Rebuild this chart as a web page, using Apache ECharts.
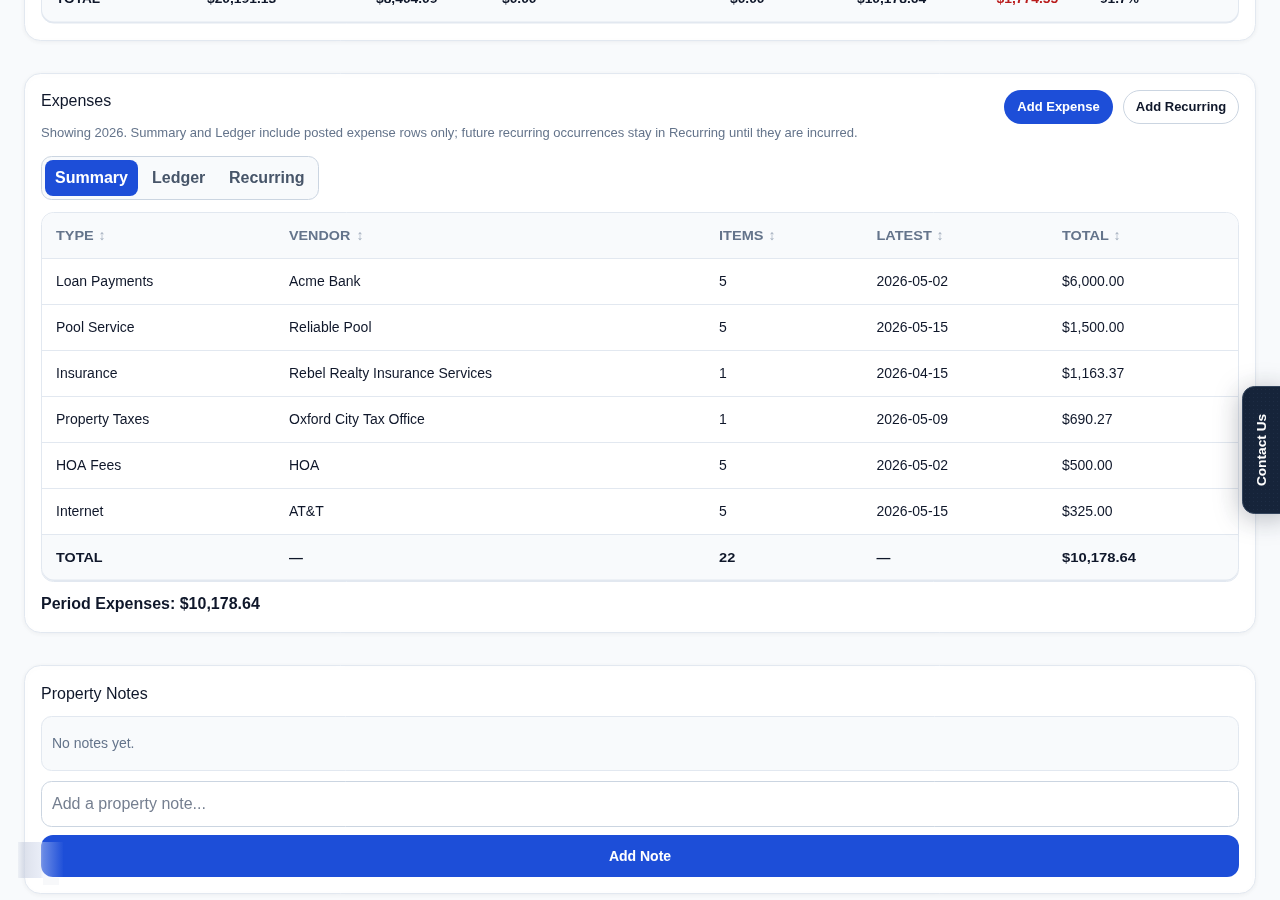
<!DOCTYPE html>
<html><head><meta charset="utf-8">
<style>html,body{margin:0;padding:0;background:#f8fafc;overflow:hidden}#c{width:1280px;height:900px}</style>
<script src="https://cdn.jsdelivr.net/npm/echarts@6/dist/echarts.min.js"></script>
</head><body><div id="c"></div>
<script>
const topTotals = ['TOTAL','$20,191.13','$8,404.09','$0.00','$0.00','$10,178.64','-$1,774.55','91.7%'];
const headers = ['TYPE','VENDOR','ITEMS','LATEST','TOTAL'];
const types = ['Loan Payments','Pool Service','Insurance','Property Taxes','HOA Fees','Internet'];
const vendors = ['Acme Bank','Reliable Pool','Rebel Realty Insurance Services','Oxford City Tax Office','HOA','AT&T'];
const items = ['5','5','1','1','5','5'];
const latest = ['2026-05-02','2026-05-15','2026-04-15','2026-05-09','2026-05-02','2026-05-15'];
const totals = ['$6,000.00','$1,500.00','$1,163.37','$690.27','$500.00','$325.00'];
const totalRow = ['TOTAL','—','22','—','$10,178.64'];
const tabs = ['Summary','Ledger','Recurring'];

const F = '"Liberation Sans", Arial, sans-serif';
const g = [];
const mctx = document.createElement('canvas').getContext('2d');
function rect(x,y,w,h,r,fill,stroke,extra){
  g.push({type:'rect',shape:{x,y,width:w,height:h,r},style:Object.assign({fill:fill||'transparent',stroke:stroke||null,lineWidth:stroke?1:0},extra||{}),silent:true,z:1});
}
function text(s,x,y,size,fill,weight,align,ls,z){
  const font=(weight?weight+' ':'')+size+'px '+F;
  const o={type:'text',silent:true,z:z||5,style:{text:s,x:0,y:0,font,fill,textAlign:align||'left',textVerticalAlign:'middle'},x,y:y+1};
  if(ls){mctx.font=font;const w=mctx.measureText(s).width;o.scaleX=(w+s.length*ls)/w;}
  g.push(o);
}
function hline(x1,x2,y,c,w){g.push({type:'line',silent:true,z:3,shape:{x1,y1:y,x2,y2:y},style:{stroke:c,lineWidth:w||1}});}
const shadow={shadowBlur:5,shadowColor:'rgba(15,23,42,0.05)',shadowOffsetY:1};
const BORDER='#e2e8f0', BORDER2='#cbd5e1', DARK='#0f172a', MUTE='#64748b', BLUE='#1d4ed8', SOFT='#f8fafc';
const LS=0.95;

// clipped card above
rect(24.5,-60,1231,100.5,16,'#fff',BORDER,shadow);
rect(41.5,-60,1197,83,12,BORDER,BORDER);
rect(42,-60,1196,81.5,12,SOFT);
const topX=[56,207,376,502,730,857,992,1100];
topTotals.forEach((s,i)=>text(s,topX[i],-1.5,13,i===6?'#b91c1c':DARK,'bold','left',0.4));

// expenses card
rect(24.5,73.5,1231,559,16,'#fff',BORDER,shadow);
text('Expenses',41,101,16,DARK);
text('Showing 2026. Summary and Ledger include posted expense rows only; future recurring occurrences stay in Recurring until they are incurred.',41,132,13,MUTE);
rect(1004,90,109,34,17,BLUE);
text('Add Expense',1058.5,106,13,'#fff','bold','center');
rect(1123.5,90.5,115,33,16.5,'#fff',BORDER2);
text('Add Recurring',1181,106,13,DARK,'bold','center');
rect(41.5,156.5,277,43,10,SOFT,BORDER2);
rect(45,160,93,36,8,BLUE);
const tabX=[55,152,229];
tabs.forEach((s,i)=>text(s,tabX[i],177.5,16,i===0?'#fff':'#475569','bold'));

// table
rect(41.5,212.5,1197,369,12,'#fff',BORDER);
rect(42,213,1196,45,[12,12,0,0],SOFT);
rect(42,535,1196,46,[0,0,12,12],BORDER);
rect(42,535,1196,44.5,[0,0,12,12],SOFT);
const colX=[56,289,719,876.5,1062];
const arrowX=[102,360,772,940,1117];
const rowTop=258.5,rowH=46;
headers.forEach((s,i)=>{
  text(s,colX[i],235,13,MUTE,'bold','left',LS);
  text('↕',arrowX[i],235,14,'#a3aebd',null,'center');
});
for(let r=0;r<=types.length;r++) hline(42,1238,rowTop+r*rowH,BORDER);
types.forEach((t,r)=>{
  [t,vendors[r],items[r],latest[r],totals[r]].forEach((s,i)=>text(s,colX[i],rowTop+r*rowH+22.5,14,DARK));
});
totalRow.forEach((s,i)=>text(s,colX[i],557,13,DARK,'bold','left',0.9));
text('Period Expenses: $10,178.64',41,603.5,16,DARK,'bold');

// notes card
rect(24.5,665.5,1231,228,16,'#fff',BORDER,shadow);
text('Property Notes',41,693.5,16,DARK);
rect(41.5,716.5,1197,54,10,SOFT,BORDER);
text('No notes yet.',52,743,14,MUTE);
rect(41.5,781.5,1197,45,10,'#fff',BORDER2);
text('Add a property note...',52,803.5,16,'#757f90');
rect(41,835,1198,42,12,BLUE);
text('Add Note',640,856,14,'#fff','bold','center');

// blurred overlay bottom-left
g.push({type:'rect',silent:true,z:8,shape:{x:18,y:842,width:45,height:36},style:{fill:{type:'linear',x:0,y:0,x2:1,y2:0,colorStops:[{offset:0,color:'rgba(205,211,226,0.25)'},{offset:0.12,color:'rgba(205,211,226,0.7)'},{offset:0.5,color:'rgba(215,222,240,0.55)'},{offset:0.56,color:'rgba(225,232,250,0.38)'},{offset:1,color:'rgba(225,232,250,0.02)'}]}}});
g.push({type:'rect',silent:true,z:8,shape:{x:43,y:878,width:16,height:7},style:{fill:'rgba(205,211,226,0.16)'}});

// contact tab
const dots=document.createElement('canvas');dots.width=4;dots.height=4;
const dc=dots.getContext('2d');dc.fillStyle='#17253b';dc.fillRect(0,0,4,4);dc.fillStyle='#1f2e46';dc.fillRect(1,1,1,1);
g.push({type:'rect',silent:true,z:9,shape:{x:1242.5,y:386.5,width:50,height:127,r:12},style:{fill:{image:dots,repeat:'repeat'},stroke:'#33445c',lineWidth:1,shadowBlur:26,shadowColor:'rgba(15,23,42,0.28)',shadowOffsetX:-2,shadowOffsetY:4}});
g.push({type:'text',silent:true,z:10,x:1262,y:450,rotation:Math.PI/2,style:{text:'Contact Us',x:0,y:0,font:'bold 13.7px '+F,fill:'#fff',textAlign:'center',textVerticalAlign:'middle'}});

const chart=echarts.init(document.getElementById('c'),null,{renderer:'canvas',width:1280,height:900});
chart.setOption({animation:false,backgroundColor:'#f8fafc',graphic:{elements:g}});
</script></body></html>
